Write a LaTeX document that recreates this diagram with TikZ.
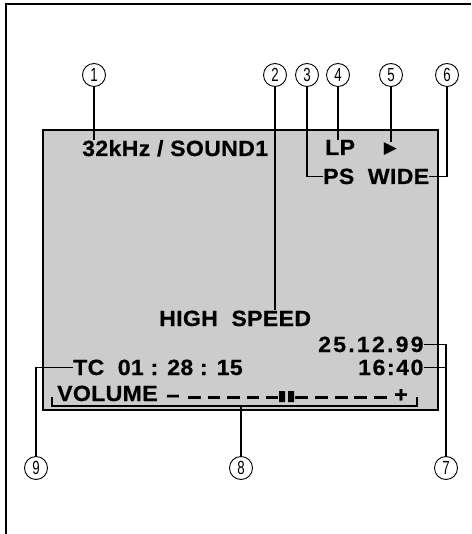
\documentclass[tikz,border=0pt]{standalone}
\usepackage{fontspec}
\setmainfont{Liberation Sans}
\newfontfamily\lcdfont[LetterSpace=1.5,FakeStretch=1.05,FakeBold=0.6]{Liberation Sans}
\newfontfamily\numfont[FakeStretch=0.7]{Liberation Sans}
\newfontfamily\symfont{DejaVu Sans}
\begin{document}
\begin{tikzpicture}[x=1pt,y=-1pt,
	lcd/.style={inner sep=0pt,anchor=base west,font=\lcdfont\bfseries\fontsize{22}{22}\selectfont},
	num/.style={draw,circle,line width=0.9pt,minimum size=23pt,inner sep=0pt,font=\numfont\fontsize{19}{19}\selectfont},
	lead/.style={line width=1.8pt}]
	\useasboundingbox (0,0) rectangle (471,534);
	% frame and screen
	\draw[line width=2.4pt] (6,534) |- (471,4);
	\draw[line width=1.4pt,fill=gray!40] (43,130) rectangle (438,410);
	% screen texts
	\node[lcd] (khz) at (82,156) {32kHz / SOUND1};
	\node[lcd] (lp) at (325,155) {LP};
	\node[inner sep=0pt,font=\symfont\fontsize{17}{17}\selectfont] (play) at (390.5,149) {▶};
	\node[lcd] (ps) at (323,184) {PS\ \ WIDE};
	\node[lcd] (speed) at (159,326) {HIGH\ \ SPEED};
	\node[lcd,font=\lcdfont\bfseries\fontsize{22}{22}\selectfont\addfontfeatures{LetterSpace=10}] (date) at (318,352) {25.12.99};
	\node[lcd] (tc) at (73,375) {TC\ \ 01 : 28 : 15};
	\node[lcd,font=\lcdfont\bfseries\fontsize{22}{22}\selectfont\addfontfeatures{LetterSpace=7}] (time) at (358,375) {16:40};
	\node[lcd] (vol) at (57,401) {VOLUME};
	\node[lcd] (minus) at (166,403.5) {−};
	\node[lcd] (plus) at (394,402) {+};
	% volume scale
	\draw[line width=2.8pt,dash pattern=on 12.8pt off 6.7pt] (188,397.5) -- (278,397.5);
	\draw[line width=2.8pt,dash pattern=on 13pt off 6.75pt] (295,397.5) -- (387,397.5);
	\fill (279,391) rectangle (285,402) (288,391) rectangle (294,402);
	% callout numbers
	\foreach \n/\x in {1/94,2/275,3/307,4/338,5/391,6/447} \node[num] (c\n) at (\x,75) {\n};
	\foreach \n/\x in {7/446,8/241,9/36} \node[num] (c\n) at (\x,468) {\n};
	% leaders
	\draw[lead] (c1) -- (c1 |- khz.north);
	\draw[lead] (c2) -- (c2 |- speed.north);
	\draw[lead] (c3) |- (ps.west);
	\draw[lead] (c4) -- (c4 |- lp.north);
	\draw[lead] (c5) -- (c5 |- play.north);
	\draw[lead] (c6) |- (ps.east);
	\draw[lead] (date.east) -| (c7);
	\draw[lead] (time.east) -| (c7);
	\draw[lead] (tc.west) -| (c9);
	\coordinate (vl) at (52,397);
	\coordinate (vr) at (417,397);
	\draw[lead] (vl) -- ++(0,9) -| (vr);
	\draw[lead] (c8) -- (c8 |- 0,406);
\end{tikzpicture}
\end{document}
